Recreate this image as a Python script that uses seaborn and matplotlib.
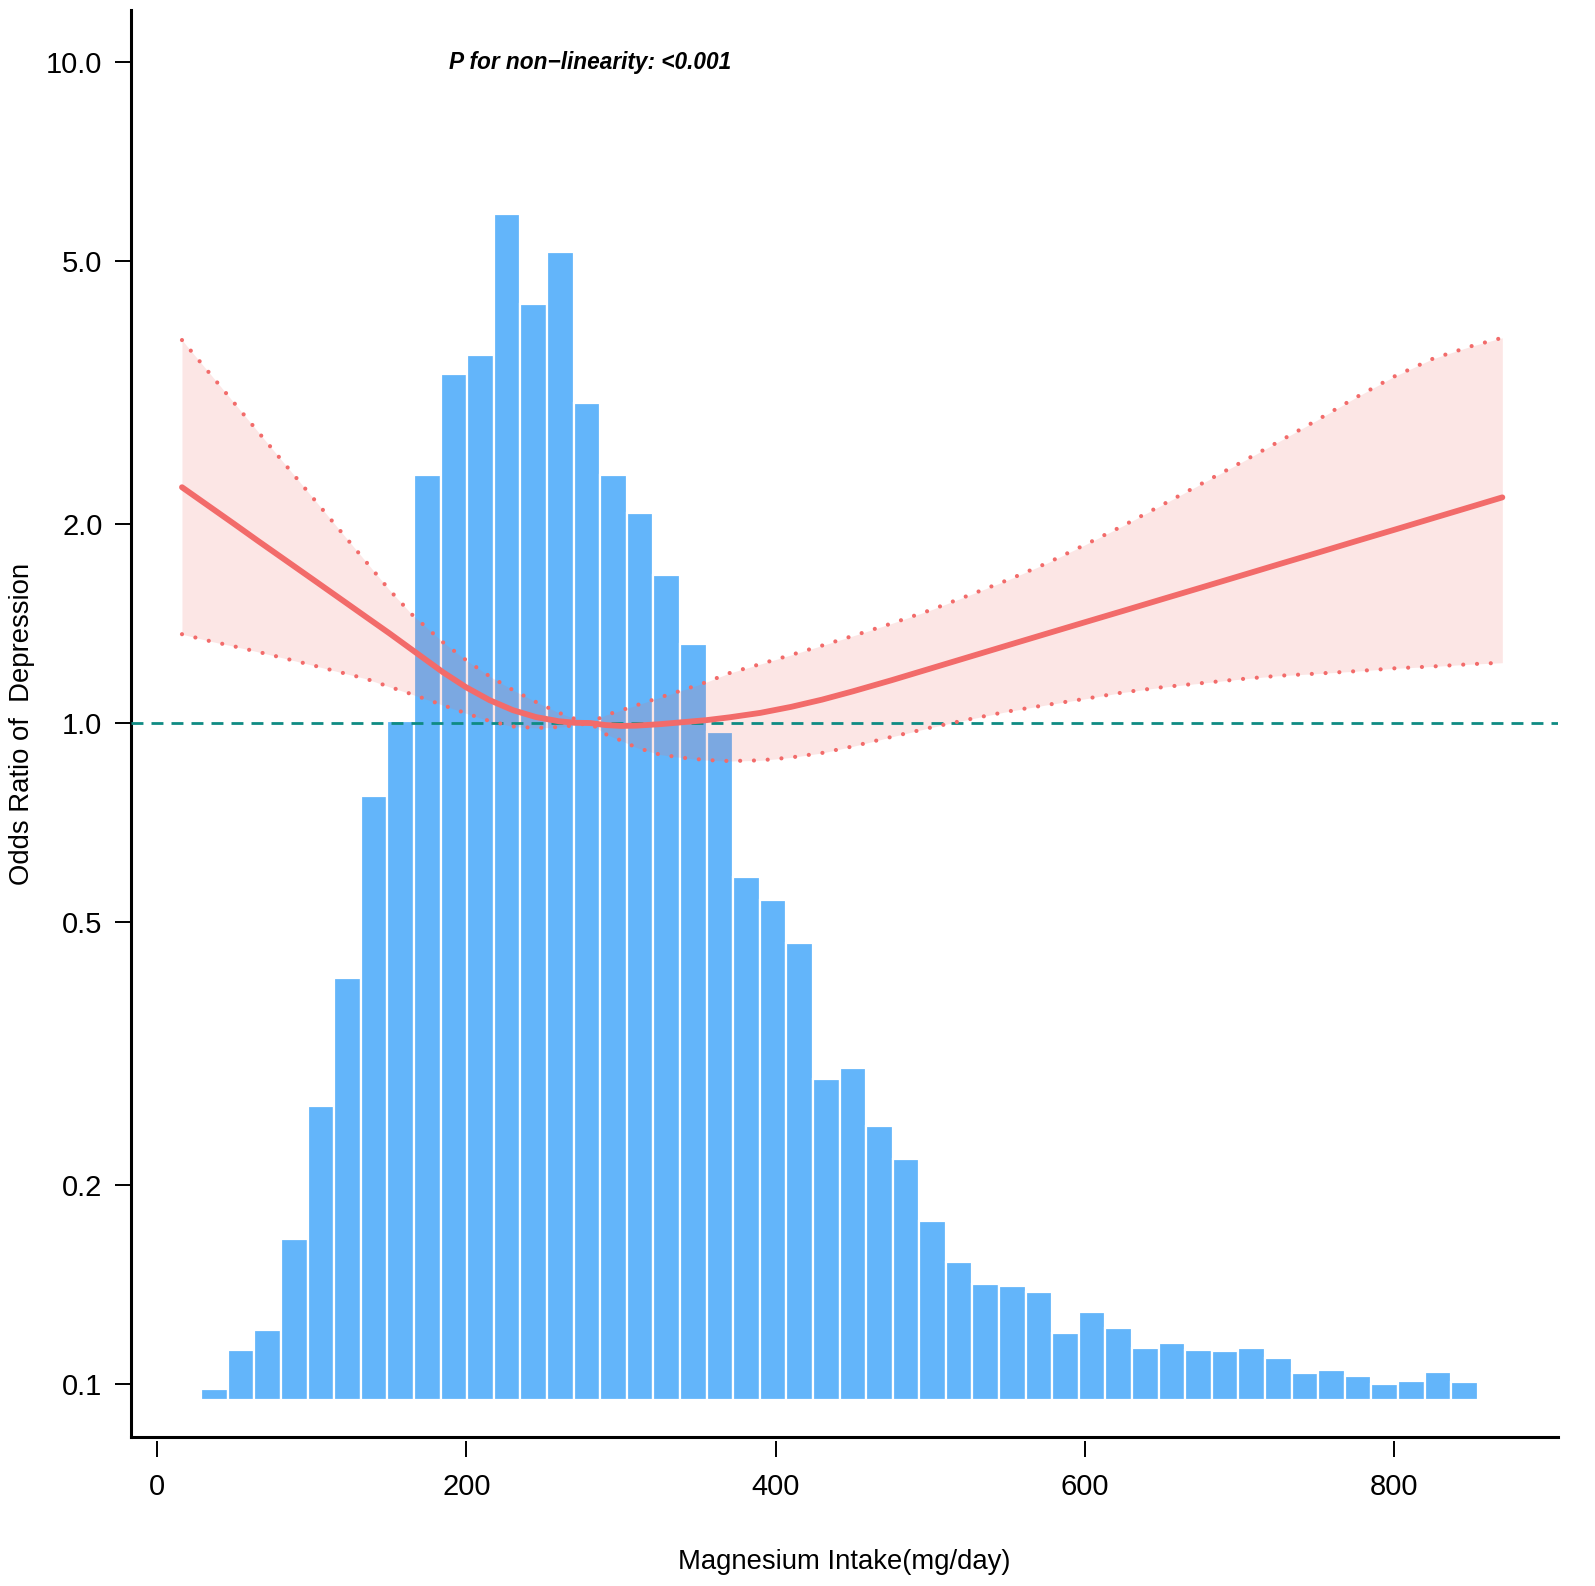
import numpy as np
import matplotlib
matplotlib.use('Agg')
import matplotlib.pyplot as plt
import seaborn as sns

# histogram of magnesium intake, drawn on the odds-ratio (log) axis
bin_start = 28.5
bin_width = 17.2
bar_base = 0.0945
bar_top = [0.098, 0.1126, 0.1206, 0.1657, 0.2634, 0.411, 0.776, 1.006, 2.37, 3.37,
           3.61, 5.90, 4.31, 5.17, 3.05, 2.37, 2.08, 1.675, 1.319, 0.970,
           0.584, 0.539, 0.465, 0.289, 0.300, 0.2456, 0.219, 0.176, 0.153, 0.1414,
           0.1406, 0.1375, 0.1195, 0.1283, 0.1214, 0.1132, 0.1151, 0.1126, 0.1119, 0.1132,
           0.1095, 0.1037, 0.1048, 0.1026, 0.0999, 0.1009, 0.1043, 0.1005]

# restricted cubic spline estimate with 95% CI
curve_x = [16, 35, 50, 65, 80, 100, 120, 135, 150, 165, 185, 200, 215, 230, 245, 260,
           270, 280, 290, 300, 310, 325, 340, 355, 370, 390, 410, 430, 450, 475, 500,
           525, 550, 575, 600, 625, 650, 675, 700, 725, 750, 775, 800, 825, 850, 870]
or_mid = [2.275, 2.117, 2.0, 1.888, 1.784, 1.654, 1.533, 1.448, 1.368, 1.290, 1.193, 1.132,
          1.083, 1.046, 1.021, 1.006, 1.001, 1.0, 0.993, 0.990, 0.991, 0.996, 1.003, 1.010,
          1.020, 1.036, 1.058, 1.085, 1.117, 1.161, 1.209, 1.259, 1.311, 1.365, 1.421,
          1.479, 1.540, 1.603, 1.669, 1.738, 1.809, 1.884, 1.961, 2.042, 2.126, 2.196]
or_upper = [3.80, 3.36, 3.047, 2.764, 2.507, 2.202, 1.934, 1.755, 1.592, 1.458, 1.324, 1.244,
            1.177, 1.122, 1.076, 1.036, 1.015, 1.0, 1.028, 1.045, 1.064, 1.093, 1.122, 1.153,
            1.19, 1.228, 1.268, 1.31, 1.355, 1.415, 1.482, 1.561, 1.646, 1.744, 1.861,
            1.991, 2.139, 2.30, 2.473, 2.664, 2.873, 3.108, 3.346, 3.56, 3.72, 3.83]
or_lower = [1.363, 1.329, 1.306, 1.282, 1.257, 1.224, 1.191, 1.167, 1.135, 1.105, 1.064, 1.034,
            1.007, 0.988, 0.983, 0.986, 0.992, 1.0, 0.962, 0.941, 0.918, 0.896, 0.886, 0.879,
            0.876, 0.878, 0.887, 0.901, 0.922, 0.953, 0.984, 1.013, 1.041, 1.065, 1.088,
            1.113, 1.133, 1.149, 1.165, 1.179, 1.188, 1.198, 1.21, 1.218, 1.228, 1.234]

y_ticks = [0.1, 0.2, 0.5, 1.0, 2.0, 5.0, 10.0]
x_ticks = [0, 200, 400, 600, 800]

sns.set_theme(style='ticks')
plt.rcParams['font.family'] = ['Liberation Sans', 'DejaVu Sans']
plt.rcParams['text.color'] = 'black'
plt.rcParams['axes.labelcolor'] = 'black'
plt.rcParams['xtick.color'] = 'black'
plt.rcParams['ytick.color'] = 'black'

red = '#F26B6A'
fig = plt.figure(figsize=(15.95, 15.86), dpi=100)
ax = fig.add_axes([0.0821, 0.0939, 0.8947, 0.8997])
ax.set_yscale('log')

edges = bin_start + bin_width * np.arange(len(bar_top))
ax.bar(edges, np.array(bar_top) - bar_base, bottom=bar_base, width=bin_width, align='edge',
       color='#63B5FA', edgecolor='white', linewidth=1.6, zorder=1)

ax.fill_between(curve_x, or_lower, or_upper, color=red, alpha=0.17, linewidth=0, zorder=2)
ax.axhline(1.0, color='#0F8B83', lw=2.0, ls=(0, (4.3, 2.9)), zorder=3)
sns.lineplot(x=curve_x, y=or_upper, ax=ax, color=red, lw=3.0, linestyle=(0, (0.01, 3.3)),
             dash_capstyle='round', zorder=4)
sns.lineplot(x=curve_x, y=or_lower, ax=ax, color=red, lw=3.0, linestyle=(0, (0.01, 3.3)),
             dash_capstyle='round', zorder=4)
sns.lineplot(x=curve_x, y=or_mid, ax=ax, color=red, lw=4.2, solid_capstyle='round',
             solid_joinstyle='round', zorder=5)

ax.text(188.5, 10.0, 'P for non\u2212linearity: <0.001', fontsize=16.3, fontweight='bold',
        fontstyle='italic', ha='left', va='center')

ax.set_xlim(-17, 906)
ax.set_ylim(0.083, 12.0)
ax.set_yticks(y_ticks)
ax.set_yticklabels([f'{t:.1f}' for t in y_ticks])
ax.minorticks_off()
ax.tick_params(axis='y', length=11.5, width=1.4, labelsize=21, pad=9)
ax.tick_params(axis='x', bottom=False, labelbottom=False)
ax.set_xlabel('')
ax.set_ylabel('Odds Ratio of  Depression', fontsize=19.8, labelpad=8)

for side in ['top', 'right']:
    ax.spines[side].set_visible(False)
for side in ['left', 'bottom']:
    ax.spines[side].set_linewidth(2.2)
    ax.spines[side].set_color('black')

sec = ax.secondary_xaxis(-0.003)
sec.spines['bottom'].set_visible(False)
sec.set_xticks(x_ticks)
sec.set_xticklabels([str(t) for t in x_ticks])
sec.tick_params(axis='x', length=11.5, width=1.4, labelsize=21, pad=11)
sec.set_xlabel('Magnesium Intake(mg/day)', fontsize=19.8, labelpad=35)

fig.savefig('out.png', dpi=100, facecolor='white')
